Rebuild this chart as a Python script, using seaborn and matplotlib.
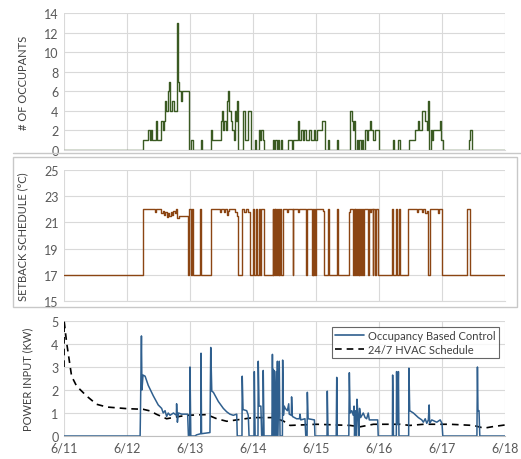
import matplotlib
matplotlib.use("Agg")
import matplotlib.pyplot as plt
import seaborn as sns
import numpy as np
from matplotlib.patches import Rectangle
from matplotlib.lines import Line2D

sns.set_theme(style="white")
plt.rcParams['font.family'] = ['Lato', 'DejaVu Sans']

# ---------------- data (hours since 6/11 00:00) ----------------
occ_hours = [0, 30.0, 32.1, 32.6, 33.0, 33.5, 35.0, 35.4, 37.1, 37.6, 38.0, 38.6, 39.0, 39.6, 40.1,
             40.5, 41.0, 41.9, 43.0, 43.6, 43.9, 44.4, 44.8, 47.7, 48.3, 49.3, 52.2, 52.6, 56.0,
             56.4, 59.7, 60.2, 60.6, 61.1, 61.6, 62.1, 62.6, 63.0, 63.6, 64.1, 64.6, 65.0, 65.5,
             65.8, 66.3, 68.1, 68.8, 70.2, 71.4, 72.8, 73.2, 74.3, 74.8, 75.2, 75.7, 76.3, 79.5,
             80.0, 80.5, 81.0, 81.5, 82.0, 82.7, 83.2, 85.5, 86.9, 87.2, 89.0, 89.5, 90.3, 91.1,
             91.6, 92.2, 93.5, 94.0, 95.3, 95.8, 96.3, 98.4, 99.3, 100.6, 101.0, 104.1, 104.5,
             109.0, 109.7, 110.1, 110.6, 111.0, 111.5, 112.0, 112.5, 113.0, 113.5, 114.0, 114.7,
             115.3, 115.8, 116.5, 117.0, 117.7, 118.4, 120.0, 125.3, 125.7, 127.3, 128.0, 131.6,
             133.6, 134.7, 135.1, 136.3, 137.6, 138.2, 138.7, 139.2, 139.7, 140.2, 140.7, 143.3,
             143.8, 144.5, 154.2, 154.7, 155.3, 168.0]
occ_values = [0, 1, 2, 1, 2, 1, 3, 1, 3, 2, 3, 5, 4, 6, 7,
              4, 5, 4, 13, 7, 6, 5, 6, 0, 1, 0, 1, 0, 2,
              1, 3, 4, 2, 3, 2, 5, 6, 4, 3, 2, 1, 4, 3,
              5, 0, 4, 1, 4, 0, 1, 0, 2, 1, 2, 1, 0, 1,
              0, 1, 0, 1, 0, 1, 0, 1, 0, 1, 3, 1, 2, 1,
              2, 1, 2, 1, 2, 1, 2, 3, 0, 1, 0, 1, 0,
              4, 3, 2, 3, 0, 1, 0, 1, 0, 1, 0, 2,
              1, 2, 3, 2, 1, 2, 0, 1, 0, 1, 0, 1,
              2, 3, 2, 4, 3, 2, 5, 0, 2, 1, 2, 3,
              1, 0, 1, 2, 0, 0]

setback_hours = [0, 30.0, 34.8, 35.2, 36.8, 37.6, 38.1, 38.6, 39.1, 39.6, 40.1, 40.6, 41.1, 41.7,
                 42.2, 42.7, 43.1, 43.7, 47.4, 47.8, 48.3, 48.6, 49.1, 51.9, 52.3, 55.9, 59.4,
                 59.8, 61.0, 61.5, 62.0, 62.5, 63.0, 65.1, 65.8, 66.2, 67.9, 68.7, 69.3, 70.2,
                 70.9, 72.1, 72.5, 73.2, 73.7, 74.2, 74.7, 75.1, 76.2, 79.5, 79.7, 80.0, 80.3,
                 80.5, 80.8, 81.0, 81.4, 81.8, 82.0, 82.4, 82.8, 83.3, 85.1, 85.5, 87.2, 87.4,
                 89.3, 89.7, 92.2, 92.6, 94.5, 94.7, 95.0, 95.4, 95.8, 96.0, 98.5, 99.0, 100.6,
                 101.0, 103.9, 104.4, 108.6, 109.0, 110.2, 110.5, 110.7, 111.0, 111.2, 111.6,
                 111.9, 112.3, 112.5, 112.9, 113.3, 113.7, 114.0, 114.4, 115.9, 116.2, 116.6,
                 116.9, 117.6, 117.8, 118.5, 118.7, 119.8, 124.8, 125.2, 126.5, 126.9, 127.6,
                 128.0, 131.2, 134.4, 134.7, 136.3, 136.9, 137.5, 138.2, 138.8, 139.3, 142.6,
                 143.0, 144.1, 153.7, 154.8, 168.0]
setback_values = [17, 22, 21.8, 22, 21.7, 21.9, 21.6, 21.8, 21.4, 21.7, 21.5, 21.8, 21.6, 21.9,
                  21.7, 22, 21.3, 21.5, 17, 22, 17, 22, 17, 22, 17, 22, 21.8,
                  22, 21.8, 22, 21.6, 21.9, 22, 21.8, 21.5, 17, 22, 21.8, 22, 21.8,
                  17, 22, 17, 22, 17, 22, 17, 22, 17, 22, 17, 22, 17,
                  22, 17, 22, 17, 22, 17, 22, 17, 22, 21.8, 22, 17, 22,
                  21.8, 22, 17, 22, 17, 22, 17, 22, 17, 22, 21.9, 17, 22,
                  17, 22, 17, 21.8, 22, 17, 22, 17, 22, 17, 22,
                  17, 22, 17, 22, 17, 22, 17, 22, 17, 22, 21.8,
                  22, 17, 22, 17, 22, 17, 22, 17, 22, 17, 22,
                  17, 22, 21.8, 22, 21.8, 22, 21.7, 21.9, 17, 22, 21.7,
                  22, 17, 22, 17, 17]

power_occ_hours = [0, 29.0, 29.1, 29.5, 29.7, 30.1, 30.9, 32.1, 34.0, 35.9, 37.2, 37.8, 38.5, 39.1,
                   39.7, 40.4, 41.7, 42.8, 42.9, 43.2, 43.6, 44.8, 47.1, 47.4, 47.9, 48.0, 48.3,
                   49.9, 50.5, 52.1, 52.2, 52.4, 55.6, 55.9, 56.3, 56.9, 58.8, 60.7, 62.0, 63.2,
                   64.5, 65.8, 66.0, 67.8, 67.9, 68.2, 69.6, 70.2, 70.5, 72.4, 72.5, 72.8, 73.9,
                   74.0, 74.3, 75.0, 75.3, 75.8, 75.9, 76.2, 79.2, 79.4, 79.6, 79.7, 80.0, 80.1,
                   80.4, 80.8, 81.0, 81.3, 81.5, 82.0, 82.3, 83.2, 83.3, 83.6, 83.9, 84.3, 85.1,
                   85.6, 85.8, 86.6, 86.7, 87.0, 88.6, 89.7, 89.9, 90.2, 91.8, 92.1, 92.6, 92.7,
                   93.0, 95.4, 95.6, 100.2, 100.3, 100.6, 103.7, 103.9, 104.1, 108.5, 108.7, 109.0,
                   109.6, 110.2, 110.5, 110.7, 111.1, 111.4, 111.6, 112.0, 112.3, 112.6, 113.0,
                   114.0, 114.7, 115.3, 115.9, 116.3, 117.8, 119.5, 119.7, 125.1, 125.2, 125.5,
                   126.6, 126.7, 127.0, 127.4, 127.6, 131.3, 131.4, 131.7, 133.1, 135.0, 136.3,
                   136.9, 137.6, 138.2, 138.8, 139.1, 139.3, 140.1, 142.0, 143.3, 144.0, 144.3,
                   157.3, 157.5, 157.7, 158.1, 158.4, 168.0]
power_occ_values = [0, 0, 0.8, 4.35, 2.0, 2.65, 2.6, 2.2, 1.75, 1.35, 1.2, 1.0, 1.1, 0.85,
                    1.0, 0.9, 1.0, 0.9, 1.4, 0.6, 1.0, 0.95, 0.95, 0, 0, 3.0, 0,
                    0, 0.05, 0.1, 3.6, 0.1, 0.15, 3.85, 1.95, 1.9, 1.5, 1.2, 1.05, 0.95,
                    0.9, 0.95, 0, 0, 2.6, 1.15, 1.1, 0.9, 0, 0, 2.8, 0, 0,
                    3.25, 1.3, 1.3, 0, 0, 2.85, 0, 0, 3.55, 0, 2.9, 0, 2.85,
                    0, 2.8, 0, 3.25, 0, 3.25, 0, 0, 3.3, 0.9, 1.3, 1.2, 1.1,
                    1.4, 0.95, 0.9, 1.7, 0.85, 0.75, 0.75, 0.95, 0.7, 0.75, 0, 0, 1.9,
                    0.75, 0.7, 0, 0, 1.95, 0, 0, 2.55, 0, 0, 2.75, 1.0,
                    1.1, 0.9, 1.3, 0, 1.1, 0, 1.6, 0.9, 0, 1.2, 0.8,
                    1.0, 0.8, 0.75, 1.0, 0.7, 0.7, 0.7, 0, 0, 2.65, 0,
                    0, 2.8, 0.5, 2.8, 0, 0, 2.95, 1.1, 1.0, 0.8, 0.7,
                    0.6, 0.75, 0.55, 0.7, 1.35, 0.55, 0.7, 0.6, 0.7, 0.55, 0,
                    0, 3.0, 1.1, 1.1, 0, 0]

power_sched_hours = [0, 0.05, 1.0, 2.9, 4.8, 8.6, 12.4, 16.3, 23.9, 30.2, 32.8, 35.3, 39.1, 42.9,
                     46.7, 54.4, 58.2, 62.0, 67.1, 72.1, 79.8, 83.6, 86.1, 96.3, 109.0, 112.8,
                     117.9, 128.0, 131.8, 137.0, 147.0, 156.0, 160.0, 163.0, 168.0]
power_sched_values = [3.0, 5.0, 4.06, 2.6, 2.17, 1.74, 1.38, 1.26, 1.19, 1.16, 1.09, 0.94, 0.75, 0.83,
                      0.9, 0.93, 0.75, 0.64, 0.72, 0.8, 0.8, 0.65, 0.46, 0.51, 0.46, 0.40,
                      0.51, 0.51, 0.46, 0.51, 0.51, 0.46, 0.34, 0.40, 0.48]

day_labels = ["6/11", "6/12", "6/13", "6/14", "6/15", "6/16", "6/17", "6/18"]

# ---------------- figure ----------------
W, H = 521, 460
fig = plt.figure(figsize=(W / 100, H / 100), dpi=100)

def ax_rect(left, top, right, bottom):
    return [left / W, 1 - bottom / H, (right - left) / W, (bottom - top) / H]

ax1 = fig.add_axes(ax_rect(64, 14, 505, 151))
ax2 = fig.add_axes(ax_rect(64, 171, 505, 302))
ax3 = fig.add_axes(ax_rect(64, 322, 505, 437))

grid_c = "#d9d9d9"
text_c = "#595959"

def days(h):
    return np.asarray(h, dtype=float) / 24.0

sns.lineplot(x=days(occ_hours), y=occ_values, ax=ax1, color="#3a5a22", lw=1.0,
             drawstyle="steps-post", estimator=None, sort=False)
sns.lineplot(x=days(setback_hours), y=setback_values, ax=ax2, color="#8b4513", lw=1.0,
             drawstyle="steps-post", estimator=None, sort=False)
sns.lineplot(x=days(power_sched_hours), y=power_sched_values, ax=ax3, color="black", lw=1.2,
             linestyle=(0, (4, 3)), estimator=None, sort=False)
sns.lineplot(x=days(power_occ_hours), y=power_occ_values, ax=ax3, color="#2f5f8e", lw=1.1,
             estimator=None, sort=False)

setups = [
    (ax1, (0, 14), np.arange(0, 15, 2), "# OF OCCUPANTS"),
    (ax2, (15, 25), np.arange(15, 26, 2), "SETBACK SCHEDULE (°C)"),
    (ax3, (0, 5), np.arange(0, 6, 1), "POWER INPUT (KW)"),
]
for ax, ylim, yt, lab in setups:
    ax.set_xlim(0, 7)
    ax.set_ylim(*ylim)
    ax.set_yticks(yt)
    ax.set_xticks(range(8))
    ax.grid(True, color=grid_c, lw=0.8)
    ax.set_axisbelow(True)
    for s in ["top", "right", "left"]:
        ax.spines[s].set_visible(False)
    ax.spines["bottom"].set_color(grid_c)
    ax.spines["bottom"].set_linewidth(0.8)
    ax.tick_params(axis="both", length=0, labelsize=9, colors=text_c, pad=4)
    ax.set_ylabel(lab, fontsize=8, color="#404040")
    ax.set_xlabel("")

ax1.set_xticklabels([])
ax2.set_xticklabels([])
ax3.set_xticklabels(day_labels)
ax3.tick_params(axis="x", pad=4)
ax3.spines["bottom"].set_color("#bfbfbf")

ax1.yaxis.set_label_coords(-0.080, 0.5)
ax2.yaxis.set_label_coords(-0.082, 0.5)
ax3.yaxis.set_label_coords(-0.070, 0.5)

handles = [Line2D([], [], color="#2f5f8e", lw=1.2),
           Line2D([], [], color="black", lw=1.2, linestyle=(0, (4, 3)))]
leg = ax3.legend(handles, ["Occupancy Based Control", "24/7 HVAC Schedule"],
                 loc="upper right", bbox_to_anchor=(1.0, 1.0), fontsize=8,
                 frameon=True, fancybox=False, handlelength=2.6, borderpad=0.3,
                 labelspacing=0.25, handletextpad=0.4)
leg.get_frame().set_edgecolor("#404040")
leg.get_frame().set_linewidth(0.8)
for t in leg.get_texts():
    t.set_color("#404040")

# chart frames
frame_c = "#c8c8c8"
fig.add_artist(Line2D([13 / W, 1.0], [1 - 154 / H, 1 - 154 / H], color=frame_c, lw=1))
fig.add_artist(Rectangle((13 / W, 1 - 308 / H), (517 - 13) / W, (308 - 158) / H,
                         transform=fig.transFigure, fill=False, edgecolor=frame_c, lw=1))

fig.savefig("out.png", dpi=100)
